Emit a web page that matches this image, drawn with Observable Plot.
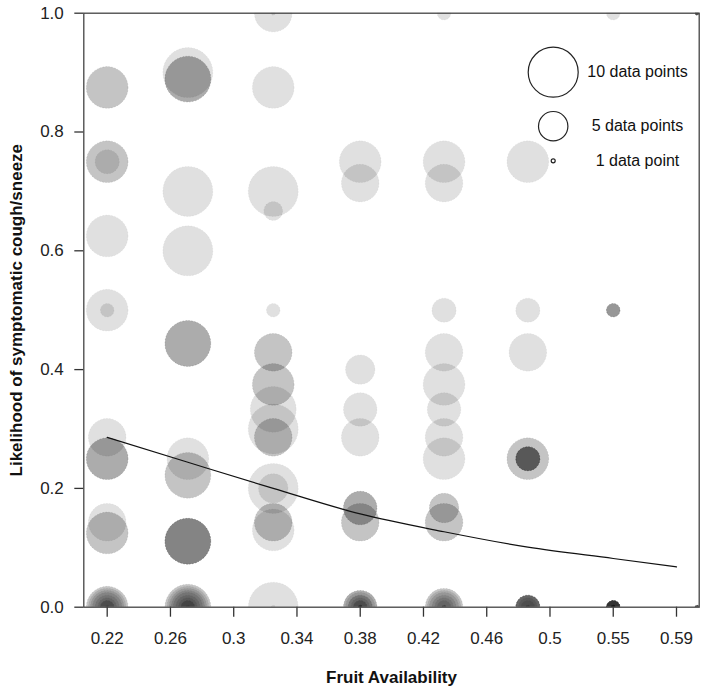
<!DOCTYPE html>
<html>
<head>
<meta charset="utf-8">
<script src="https://cdn.jsdelivr.net/npm/d3@7"></script>
<script src="https://cdn.jsdelivr.net/npm/@observablehq/plot@0.6"></script>
<style>
  html, body { margin: 0; padding: 0; background: #fff; }
  #chart { width: 708px; height: 693px; }
</style>
</head>
<body>
<div id="chart"></div>
<script>
// ---- data ----
// fruit availability of each column of bubbles
const fruit = [0.22, 0.271, 0.325, 0.38, 0.433, 0.486, 0.55, 0.603];

// each column: [likelihood, [data points of each overlapping (translucent) circle]]
const col1 = [
  [0.875, [8, 8]],
  [0.75, [8, 8, 4]],
  [0.625, [8]],
  [0.5, [8, 2]],
  [0.286, [7]],
  [0.25, [8, 8, 8]],
  [0.143, [7]],
  [0.125, [8, 8]],
  [0, [8, 8, 7, 6, 5, 4, 3, 2, 2, 1]]
];
const col2 = [
  [0.9, [10]],
  [0.889, [9, 9, 9]],
  [0.7, [10]],
  [0.6, [10]],
  [0.444, [9, 9, 9]],
  [0.25, [8]],
  [0.222, [9, 9]],
  [0.111, [9, 9, 9, 9, 9]],
  [0, [9, 9, 8, 7, 6, 5, 4, 3, 2, 2, 1]]
];
const col3 = [
  [1, [7, 1]],
  [0.875, [8]],
  [0.7, [10]],
  [0.667, [3]],
  [0.5, [2]],
  [0.429, [7, 7]],
  [0.375, [8, 8]],
  [0.333, [9]],
  [0.3, [10]],
  [0.286, [7, 7]],
  [0.2, [10, 5]],
  [0.143, [7, 7]],
  [0.13, [8]],
  [0, [10, 1]]
];
const col4 = [
  [0.75, [8]],
  [0.714, [7]],
  [0.4, [5]],
  [0.333, [6]],
  [0.286, [7]],
  [0.167, [6, 6, 6]],
  [0.143, [7, 7]],
  [0, [6, 6, 6, 5, 4, 4, 3, 2, 2, 1, 1, 1, 1]]
];
const col5 = [
  [1, [2]],
  [0.75, [8]],
  [0.714, [7]],
  [0.5, [4]],
  [0.429, [7]],
  [0.375, [8]],
  [0.333, [6]],
  [0.286, [7]],
  [0.25, [8]],
  [0.167, [5, 5]],
  [0.143, [7, 7]],
  [0, [7, 7, 6, 5, 4, 3, 2, 1, 1, 1]]
];
const col6 = [
  [0.75, [8]],
  [0.5, [4]],
  [0.429, [7]],
  [0.25, [8, 8, 4, 4, 4, 4, 4, 4]],
  [0, [4, 4, 4, 4, 4, 4, 4, 3, 2, 1, 1]]
];
const col7 = [
  [1, [2]],
  [0.5, [2, 2, 2, 2]],
  [0, [2, 2, 2, 2, 2, 2, 2, 2, 2, 2, 2, 2, 1, 1, 1, 1, 1, 1]]
];
const col8 = [
  [1, [1, 1, 1, 1, 1, 1, 1, 1]],
  [0, [1, 1, 1, 1, 1, 1, 1, 1, 1, 1]]
];

// fitted curve
const fitX = [0.22, 0.271, 0.325, 0.38, 0.433, 0.486, 0.55, 0.59];
const fitY = [0.286, 0.244, 0.2, 0.157, 0.127, 0.101, 0.082, 0.068];

// axis ticks
const xTicks = [0.22, 0.26, 0.3, 0.34, 0.38, 0.42, 0.46, 0.5, 0.55, 0.59];
const yTicks = [0, 0.2, 0.4, 0.6, 0.8, 1.0];

// size legend
const legendCounts = [10, 5, 1];
const legendLabels = ["10 data points", "5 data points", "1 data point"];

// ---- build tables ----
const columns = [col1, col2, col3, col4, col5, col6, col7, col8];
const bubbles = columns.flatMap((col, i) =>
  col.flatMap(([y, ns]) => ns.map(n => ({fruit: fruit[i], likelihood: y, n})))
);
const fit = fitX.map((x, i) => ({fruit: x, likelihood: fitY[i]}));
const legend = legendCounts.map((n, i) => ({n, label: legendLabels[i]}));

const font = "'Liberation Sans', Arial, Helvetica, sans-serif";
const legendDy = [59, 113, 147.6];

const chart = Plot.plot({
  width: 708,
  height: 693,
  marginLeft: 83.3,
  marginRight: 9.3,
  marginTop: 12.7,
  marginBottom: 86.3,
  style: {fontFamily: font, fontSize: "17px", color: "#222", background: "#fff"},
  x: {
    type: "linear",
    domain: xTicks,
    insetLeft: 23.4,
    insetRight: 22.7,
    ticks: xTicks,
    tickFormat: d => String(d),
    tickSize: 10,
    tickPadding: 15,
    label: null
  },
  y: {
    domain: [0, 1],
    ticks: yTicks,
    tickFormat: d3.format(".1f"),
    tickSize: 9,
    tickPadding: 11,
    label: null
  },
  r: {type: "linear", domain: [0, 1, 2, 5, 10], range: [0, 2, 6.8, 14.7, 25]},
  marks: [
    Plot.dot(bubbles, {
      x: "fruit", y: "likelihood", r: "n",
      fill: "black", fillOpacity: 0.12,
      stroke: "black", strokeOpacity: 0.05, strokeWidth: 1, strokeDasharray: "1.5 1.5",
      clip: true
    }),
    Plot.line(fit, {x: "fruit", y: "likelihood", stroke: "#111", strokeWidth: 1.2, curve: "monotone-x"}),
    Plot.frame({stroke: "#444", strokeWidth: 1.3}),
    ...legend.map((d, i) => Plot.dot([d], {
      r: "n", frameAnchor: "top-right", dx: -146, dy: legendDy[i],
      fill: "none", stroke: "#222", strokeWidth: 1.2
    })),
    ...legend.map((d, i) => Plot.text([d], {
      text: "label", frameAnchor: "top-right", dx: -61.7, dy: legendDy[i],
      textAnchor: "middle", lineAnchor: "middle", fontSize: 16, fill: "#111"
    })),
    Plot.text(["Fruit Availability"], {
      frameAnchor: "bottom", dy: 70, textAnchor: "middle", lineAnchor: "middle",
      fontWeight: "bold", fontSize: 17, fill: "#111"
    }),
    Plot.text(["Likelihood of symptomatic cough/sneeze"], {
      frameAnchor: "left", dx: -67, rotate: -90, textAnchor: "middle", lineAnchor: "middle",
      fontWeight: "bold", fontSize: 17, fill: "#111"
    })
  ]
});

// axis ticks styling
chart.querySelectorAll("[aria-label='x-axis tick'] path, [aria-label='y-axis tick'] path").forEach(p => {
  p.setAttribute("stroke", "#333");
  p.setAttribute("stroke-width", "1.3");
});
document.getElementById("chart").appendChild(chart);
</script>
</body>
</html>
